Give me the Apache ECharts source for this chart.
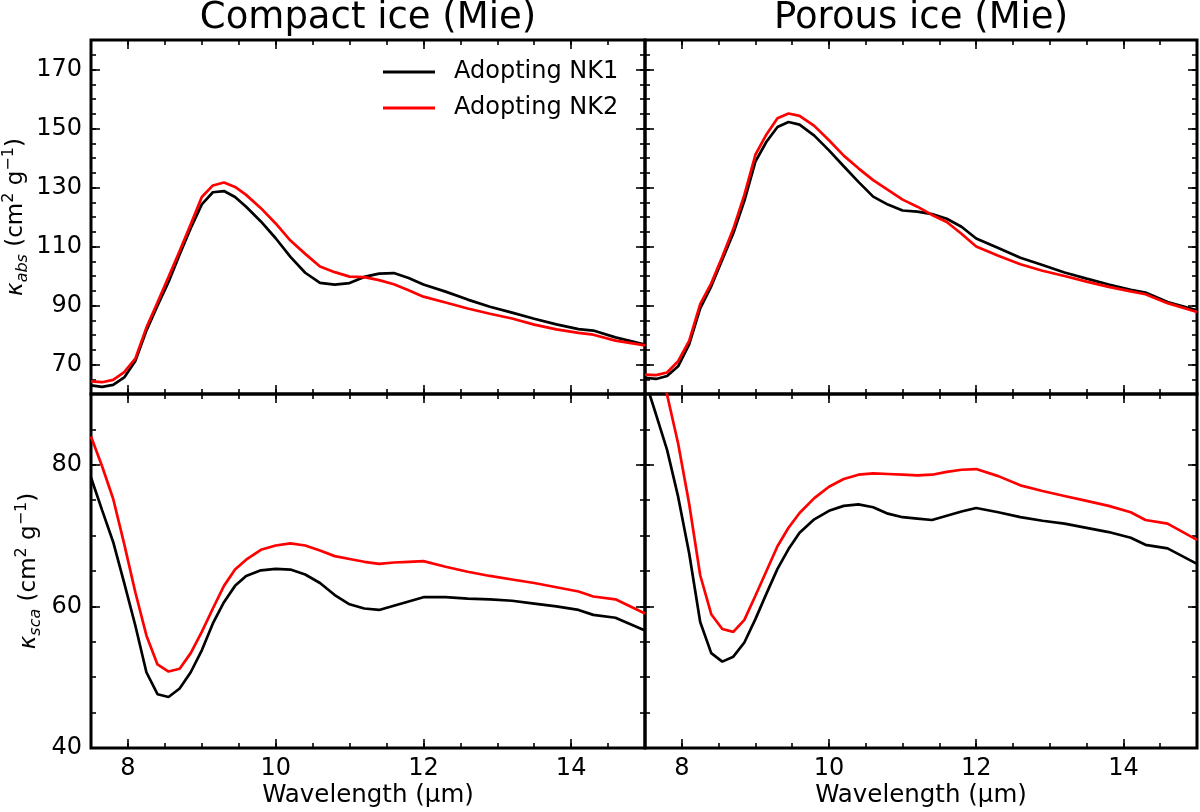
<!DOCTYPE html>
<html>
<head>
<meta charset="utf-8">
<script src="https://cdn.jsdelivr.net/npm/echarts@6/dist/echarts.min.js"></script>
<style>
html,body{margin:0;padding:0;background:#fff;}
#chart{width:1200px;height:812px;}
</style>
</head>
<body>
<div id="chart"></div>
<script>
// Wavelength grid (µm)
const wavelength = [7.5, 7.65, 7.8, 7.95, 8.1, 8.25, 8.4, 8.55, 8.7, 8.85, 9.0, 9.15, 9.3, 9.45, 9.6, 9.8, 10.0, 10.2, 10.4, 10.6, 10.8, 11.0, 11.2, 11.4, 11.6, 11.8, 12.0, 12.3, 12.6, 12.9, 13.2, 13.5, 13.8, 14.1, 14.3, 14.6, 15.0];

// Compact ice, absorption
const compactAbsNK1 = [62.9, 62.4, 63.1, 65.6, 71.2, 81.5, 89.9, 98.0, 107.3, 116.2, 124.3, 128.4, 128.8, 126.8, 123.5, 118.5, 112.8, 106.5, 101.1, 97.7, 97.1, 97.6, 99.7, 100.8, 101.0, 99.3, 97.1, 94.7, 92.0, 89.6, 87.6, 85.5, 83.6, 82.0, 81.5, 79.2, 76.8];
const compactAbsNK2 = [64.3, 64.0, 64.8, 67.4, 72.0, 82.5, 91.0, 99.7, 108.5, 117.5, 126.8, 130.7, 131.7, 130.2, 127.5, 123.0, 117.8, 112.0, 107.5, 103.2, 101.3, 99.8, 99.6, 98.6, 97.2, 95.2, 93.0, 91.0, 89.0, 87.2, 85.6, 83.5, 81.9, 80.7, 80.1, 78.1, 76.5];

// Porous ice, absorption
const porousAbsNK1 = [65.5, 65.1, 66.1, 69.4, 76.8, 89.0, 96.5, 105.5, 114.5, 125.5, 138.8, 145.5, 150.5, 152.2, 151.3, 147.6, 142.6, 137.2, 131.9, 126.9, 124.2, 122.2, 121.8, 121.0, 119.4, 116.7, 112.7, 109.5, 106.2, 103.7, 101.2, 99.1, 97.1, 95.3, 94.4, 91.2, 88.4];
const porousAbsNK2 = [66.6, 66.4, 67.3, 71.1, 78.0, 90.5, 97.5, 106.5, 116.0, 127.5, 141.1, 148.0, 153.5, 155.1, 154.3, 150.9, 146.0, 140.8, 136.5, 132.5, 129.2, 125.9, 123.5, 120.7, 118.3, 114.3, 110.0, 106.9, 104.0, 101.8, 100.0, 98.1, 96.3, 94.8, 93.8, 90.8, 87.8];

// Compact ice, scattering
const compactScaNK1 = [78.2, 73.6, 69.1, 63.3, 57.3, 50.7, 47.6, 47.2, 48.4, 50.7, 53.8, 57.6, 60.6, 62.9, 64.3, 65.1, 65.3, 65.2, 64.5, 63.3, 61.6, 60.3, 59.7, 59.5, 60.1, 60.7, 61.3, 61.3, 61.1, 61.0, 60.8, 60.4, 60.0, 59.5, 58.8, 58.4, 56.6];
const compactScaNK2 = [84.0, 79.8, 75.2, 68.8, 62.0, 55.9, 51.8, 50.8, 51.2, 53.4, 56.4, 59.7, 62.9, 65.2, 66.6, 68.0, 68.6, 68.9, 68.6, 67.9, 67.1, 66.7, 66.3, 66.0, 66.2, 66.3, 66.4, 65.6, 64.9, 64.3, 63.8, 63.3, 62.7, 62.1, 61.4, 61.0, 59.0];

// Porous ice, scattering
const porousScaNK1 = [92.0, 87.1, 82.1, 75.5, 67.5, 57.8, 53.4, 52.2, 52.9, 54.9, 58.2, 61.8, 65.3, 68.1, 70.4, 72.3, 73.5, 74.2, 74.4, 74.0, 73.1, 72.6, 72.4, 72.2, 72.8, 73.4, 73.9, 73.3, 72.6, 72.1, 71.7, 71.1, 70.5, 69.7, 68.7, 68.2, 66.0];
const porousScaNK2 = [103.0, 96.6, 89.9, 83.0, 74.5, 64.4, 58.9, 56.8, 56.4, 58.1, 61.5, 65.0, 68.5, 71.1, 73.2, 75.3, 76.9, 78.0, 78.6, 78.8, 78.7, 78.6, 78.5, 78.6, 79.0, 79.3, 79.4, 78.4, 77.1, 76.3, 75.6, 74.9, 74.2, 73.3, 72.2, 71.7, 69.4];

// Tick labels
const xTicks = [8, 10, 12, 14];
const absTicks = [70, 90, 110, 130, 150, 170];
const scaTicks = [40, 60, 80];

const seriesNames = ['Adopting NK1', 'Adopting NK2'];
const panelTitles = ['Compact ice (Mie)', 'Porous ice (Mie)'];
const xName = 'Wavelength (\u00b5m)';

const FONT = 'DejaVu Sans';
const TICK_FS = 24;
const grids = [
  {left: 91, top: 40, width: 554, height: 354},
  {left: 645, top: 40, width: 552, height: 354},
  {left: 91, top: 394, width: 554, height: 354},
  {left: 645, top: 394, width: 552, height: 354}
].map(g => Object.assign(g, {show: true, borderColor: '#000', borderWidth: 3, backgroundColor: 'transparent'}));

const nameRich = {
  k: {fontStyle: 'italic', fontSize: 23, fontFamily: FONT, color: '#000', lineHeight: 30},
  sub: {fontStyle: 'italic', fontSize: 16, fontFamily: FONT, color: '#000', verticalAlign: 'bottom', lineHeight: 17},
  sup: {fontSize: 16, fontFamily: FONT, color: '#000', verticalAlign: 'top', lineHeight: 17},
  n: {fontSize: 23, fontFamily: FONT, color: '#000', lineHeight: 30}
};

function axisSet(g, pos, min, max, majors, minorInt, labelOn, extra) {
  const base = {gridIndex: g, type: 'value', position: pos, min: min, max: max,
    axisLine: {show: false}, splitLine: {show: false}};
  const major = Object.assign({}, base, {
    axisTick: {show: true, inside: true, length: 9, lineStyle: {color: '#000', width: 1.6}, customValues: majors},
    axisLabel: {show: labelOn, customValues: majors, color: '#000', fontSize: TICK_FS, fontFamily: FONT, margin: 9}
  }, extra || {});
  const minor = Object.assign({}, base, {
    interval: minorInt,
    axisTick: {show: true, inside: true, length: 5, lineStyle: {color: '#000', width: 1.6}},
    axisLabel: {show: false}
  });
  return [major, minor];
}

const xAxes = [];
const yAxes = [];
for (let g = 0; g < 4; g++) {
  const isBottom = g >= 2;
  const isLeft = g % 2 === 0;
  const xExtra = isBottom ? {name: xName, nameLocation: 'middle', nameGap: 35,
    nameTextStyle: {color: '#000', fontSize: 24.5, fontFamily: FONT}} : {};
  xAxes.push(...axisSet(g, 'bottom', 7.5, 15, xTicks, 0.5, isBottom, xExtra));
  xAxes.push(...axisSet(g, 'top', 7.5, 15, xTicks, 0.5, false));
  const ymin = isBottom ? 40 : 60;
  const ymax = isBottom ? 90 : 180;
  const yt = isBottom ? scaTicks : absTicks;
  let yExtra = {};
  if (isLeft) {
    yExtra = {
      name: isBottom ? '{k|\u03ba}{sub|sca}{n| (cm}{sup|2}{n| g}{sup|\u22121}{n|)}'
                     : '{k|\u03ba}{sub|abs}{n| (cm}{sup|2}{n| g}{sup|\u22121}{n|)}',
      nameLocation: 'middle', nameRotate: 90, nameGap: isBottom ? 47 : 60,
      nameTextStyle: {color: '#000', fontSize: 23, fontFamily: FONT, rich: nameRich}
    };
  }
  yAxes.push(...axisSet(g, 'left', ymin, ymax, yt, 5, isLeft, yExtra));
  yAxes.push(...axisSet(g, 'right', ymin, ymax, yt, 5, false));
}

const panelData = [
  [compactAbsNK1, compactAbsNK2],
  [porousAbsNK1, porousAbsNK2],
  [compactScaNK1, compactScaNK2],
  [porousScaNK1, porousScaNK2]
];
const colors = ['#000000', '#ff0000'];
const series = [];
panelData.forEach((pair, g) => {
  pair.forEach((vals, s) => {
    series.push({
      type: 'line', name: seriesNames[s], xAxisIndex: g * 4, yAxisIndex: g * 4,
      data: wavelength.map((w, i) => [w, vals[i]]),
      symbol: 'none', smooth: false, clip: true,
      lineStyle: {color: colors[s], width: 2.7}, itemStyle: {color: colors[s]},
      animation: false, z: 3 + s
    });
  });
});

const chart = echarts.init(document.getElementById('chart'), null, {renderer: 'canvas'});
chart.setOption({
  backgroundColor: '#fff',
  animation: false,
  grid: grids,
  xAxis: xAxes,
  yAxis: yAxes,
  legend: {
    show: true, orient: 'vertical', left: 378, top: 54, padding: 5,
    icon: 'rect', itemWidth: 52, itemHeight: 3, itemGap: 10,
    data: seriesNames,
    textStyle: {color: '#000', fontSize: 24, fontFamily: FONT, lineHeight: 26, padding: [0, 0, 0, 14]}
  },
  graphic: [
    {type: 'text', x: 368, y: 18, style: {text: panelTitles[0], fontSize: 37, fontFamily: FONT, fill: '#000', align: 'center', verticalAlign: 'middle'}},
    {type: 'text', x: 921, y: 18, style: {text: panelTitles[1], fontSize: 37, fontFamily: FONT, fill: '#000', align: 'center', verticalAlign: 'middle'}}
  ],
  series: series
});
</script>
</body>
</html>
